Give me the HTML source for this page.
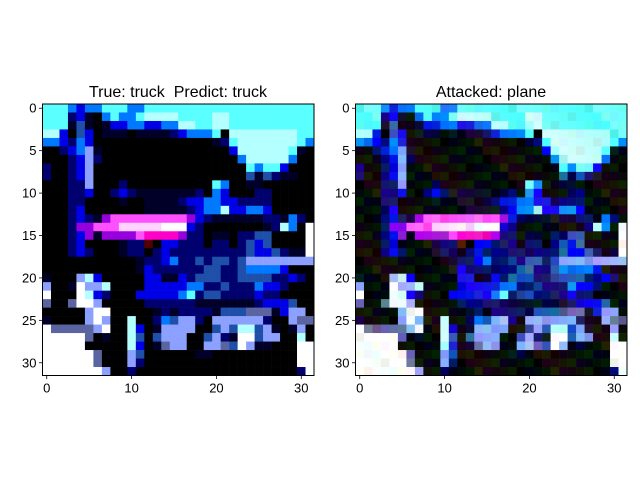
<!DOCTYPE html>
<html><head><meta charset="utf-8"><style>
body{margin:0;background:#fff;}
svg{display:block;font-family:"Liberation Sans","DejaVu Sans",sans-serif;}
</style></head><body>
<svg id="fig" width="640" height="480" viewBox="0 0 640 480">
<rect width="640" height="480" fill="#fff"/>
<text x="178" y="97" font-size="16" text-anchor="middle">True: truck&#160; Predict: truck</text>
<text x="491" y="97" font-size="16" text-anchor="middle">Attacked: plane</text>
</svg>
<script>
const palette = {K:[0,0,0],D:[0,0,40],N:[0,0,110],B:[0,0,230],S:[0,120,255],C:[90,255,255],L:[180,255,255],V:[140,160,255],G:[90,100,160],Y:[30,80,170],W:[255,255,255],M:[255,80,255],P:[255,210,255],U:[150,0,220],R:[80,0,0],E:[255,0,200]};
const imageRows = [
"CCCSBSSCCCSSCCCCCCCCCCCCCCCCCCCC",
"CCCNBDKSCSSCLLLLCCCCLLCCCCCCCCCC",
"CCCDYDKDBBSSBBSSLLCCLLCCCCCCCCCC",
"LLBKYBKDDDKDDDDNBSSSCKLLLLLLLLCC",
"SSBNSBKKKKKKKKKKKKKKDNCLLLLLLLCS",
"KKNBSVDKKKKKKKKKKKKKKKBLLLLLLCDK",
"KKKNBVNKKKKKKKKKKKKKKKKSLLLLLSKK",
"NKKNBVKKKKKKKKKKKKKKKKKKCSCCBKKK",
"NKKNBVKKKKKKKKKKKKKKKKKKYDYNDDKK",
"KKKNNVKKKNKKKKKKKKKKCSKKDDKKKKKK",
"KKKNNBKKNBNDDDDDDDNKSBKKKNNKKKKK",
"KKKNNKKKKDKKDDDDNBBSSBBNNNNKKKKK",
"KKKNBKKKKKKKDDDDDNBSSLBBSSBKKKKK",
"KKKNBNDUMMMMMMMMMUBNDDDDDDNNDSNK",
"KKKNUUMMMPPPPPWWWBNKKKKKKKDNLSKW",
"KKKNBUDUUUUMEEEEUNNKDDKNNYYKKKKW",
"KKKNBKKKKDNNRKBBNNNKNNKNYBYKKKKW",
"KKKNBNKKKDNNKNBNNNNNNNNNYBBYNDDW",
"KKKKKKKKKKKDNNBSNNYNYYNYVVVVVVVV",
"KKKKKKKKKKKDBNNNNNNYYNNYSSSSBKKK",
"DKKKVLBKKKKKBBDDBNYYYNNYYYYNNBNK",
"VKKDWVVLKKKKBBBBBSSNNYNNNSBBNKKK",
"WKKKWLBNKKKBBBBBSCNYYNNNNBNNKKKK",
"GKKGWWVKKKKKNNNNNNDDDDDDDNBBBYKK",
"KKKKKVWWKKKKKDNDNNNNDYYYGGGDBVVK",
"DKKKKVWVKKLKKNSYVVNKVVVVVVNKKVGG",
"WGGGGGVWKKLBKDVVVVKKYVYLLYVDKDVK",
"WWWWWGKDKKLYKYVVVKKYVNDWWYVVKKLK",
"WWWWWKKKKKLBKDGVVKKVVGYWVDDKKKWW",
"WWWWWWGKKKVYKKKKKKDDKKKKKKKKKKWW",
"WWWWWWGKKKVNKKKKKKKKKKKKKKKKKKWW",
"WWWWWWWVKKNKKKKKKKKKKKKKKKKKKKNW"
];
const xTicks = [0,10,20,30];
const yTicks = [0,5,10,15,20,25,30];
const NS = "http://www.w3.org/2000/svg";
const svg = document.getElementById('fig');
const panels = [{x:42.5,name:'original'},{x:355.5,name:'attacked'}];
const top0 = 104, size = 271.5, cell = size/32;
function px(x0,v){return x0+(v+0.5)*cell;}
function py(v){return top0+(v+0.5)*cell;}
function mk(tag,attrs){const e=document.createElementNS(NS,tag);for(const k in attrs)e.setAttribute(k,attrs[k]);svg.appendChild(e);return e;}
panels.forEach((p,pi)=>{
  const g=document.createElementNS(NS,'g');
  
  
  svg.appendChild(g);
  imageRows.forEach((row,r)=>{
    for(let c=0;c<32;c++){
      let col=palette[row[c]].slice();
      if(pi===1){
        const h1=((r*37+c*17)%9)-4, h2=((r*13+c*29)%9)-4, h3=((r*23+c*7)%9)-4;
        col=[col[0]+h1*6+8,col[1]+h2*6+10,col[2]+h3*6+4].map(v=>Math.max(0,Math.min(255,v)));
      }
      const rc=document.createElementNS(NS,'rect');
      rc.setAttribute('x',(p.x+c*cell).toFixed(2));
      rc.setAttribute('y',(top0+r*cell).toFixed(2));
      rc.setAttribute('width',(cell+0.3).toFixed(2));
      rc.setAttribute('height',(cell+0.3).toFixed(2));
      rc.setAttribute('fill','rgb('+col.join(',')+')');
      
      
      g.appendChild(rc);
    }
  });
  const fr=mk('rect',{x:p.x,y:top0,width:size,height:size,fill:'none',stroke:'#000','stroke-width':1});
  
  
  xTicks.forEach(v=>{
    const x=px(p.x,v);
    const t=mk('line',{x1:x,y1:top0+size,x2:x,y2:top0+size+3.5,stroke:'#000','stroke-width':0.8});
    
    
    const l=mk('text',{x:x,y:top0+size+17,'font-size':13,'text-anchor':'middle'});
    l.textContent=v;
    
    
  });
  yTicks.forEach(v=>{
    const y=py(v);
    const t=mk('line',{x1:p.x-3.5,y1:y,x2:p.x,y2:y,stroke:'#000','stroke-width':0.8});
    
    
    const l=mk('text',{x:p.x-6,y:y+4.5,'font-size':13,'text-anchor':'end'});
    l.textContent=v;
    
    
  });
});
</script>
</body></html>
